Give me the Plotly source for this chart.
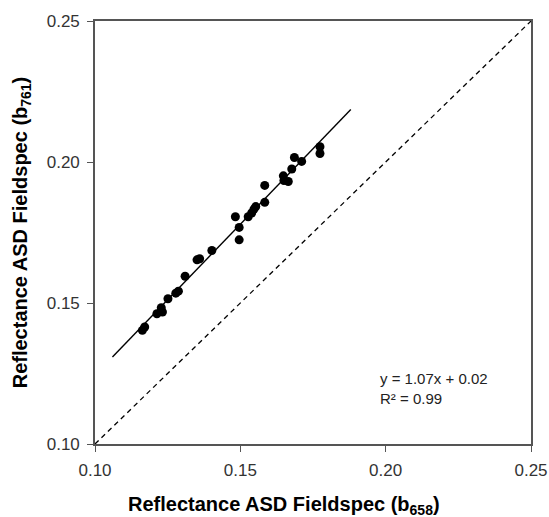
import numpy as np
import plotly.graph_objects as go

# Reflectance at 658 nm (x) vs 761 nm (y), ASD FieldSpec
b658 = [0.1163, 0.1171, 0.1213, 0.1228, 0.1232, 0.1251, 0.1278, 0.1287, 0.1310,
        0.1351, 0.1360, 0.1402, 0.1483, 0.1496, 0.1496, 0.1527, 0.1539, 0.1547,
        0.1553, 0.1584, 0.1584, 0.1648, 0.1650, 0.1665, 0.1677, 0.1686, 0.1711,
        0.1774, 0.1774]
b761 = [0.1403, 0.1415, 0.1462, 0.1483, 0.1468, 0.1515, 0.1535, 0.1542, 0.1595,
        0.1653, 0.1657, 0.1686, 0.1806, 0.1768, 0.1724, 0.1806, 0.1819, 0.1833,
        0.1842, 0.1857, 0.1917, 0.1951, 0.1934, 0.1931, 0.1975, 0.2016, 0.2002,
        0.2054, 0.2030]

axis_ticks = [0.10, 0.15, 0.20, 0.25]
trend_range = [0.106, 0.188]

slope, intercept = np.polyfit(b658, b761, 1)
tx = np.array(trend_range)
ty = slope * tx + intercept

FONT = "Liberation Sans, Arial"

fig = go.Figure()

# 1:1 line
fig.add_trace(go.Scatter(x=[0.10, 0.25], y=[0.10, 0.25], mode="lines",
                         line=dict(color="black", width=1.3, dash="5px,4px"),
                         hoverinfo="skip", showlegend=False))
# linear trendline
fig.add_trace(go.Scatter(x=tx, y=ty, mode="lines",
                         line=dict(color="black", width=1.4),
                         hoverinfo="skip", showlegend=False))
# observations
fig.add_trace(go.Scatter(x=b658, y=b761, mode="markers",
                         marker=dict(color="black", size=9, line=dict(width=0)),
                         showlegend=False))

fig.add_annotation(x=0.1972, y=0.1196, xref="x", yref="y",
                   text="y = 1.07x + 0.02<br>R² = 0.99", showarrow=False,
                   xanchor="left", yanchor="middle", align="left",
                   font=dict(family=FONT, size=15, color="#222"))

# x-axis title, placed slightly left of the axis centre
fig.add_annotation(x=0.433, y=0, xref="paper", yref="paper", yshift=-47,
                   text="Reflectance ASD Fieldspec (b<sub>658</sub>)", showarrow=False,
                   xanchor="center", yanchor="top",
                   font=dict(family=FONT, size=20, color="black", weight="bold"))

axis_common = dict(
    range=[0.10, 0.25], tickvals=axis_ticks, ticktext=[f"{v:.2f}" for v in axis_ticks],
    showgrid=False, zeroline=False, showline=True, mirror=True, automargin=False,
    linecolor="#555", linewidth=1.6, ticks="outside", ticklen=6, tickwidth=1.4,
    tickcolor="#555", tickfont=dict(family=FONT, size=17, color="#333"),
)

fig.update_xaxes(**axis_common, ticklabelstandoff=4)
fig.update_yaxes(**axis_common, ticklabelstandoff=4,
                 title=dict(text="Reflectance ASD Fieldspec (b<sub>761</sub>)", standoff=14,
                            font=dict(family=FONT, size=20, color="black", weight="bold")))

fig.update_layout(
    width=549, height=517,
    margin=dict(l=95, r=18, t=21, b=73),
    paper_bgcolor="white", plot_bgcolor="white",
)

fig.write_html("out.html")
